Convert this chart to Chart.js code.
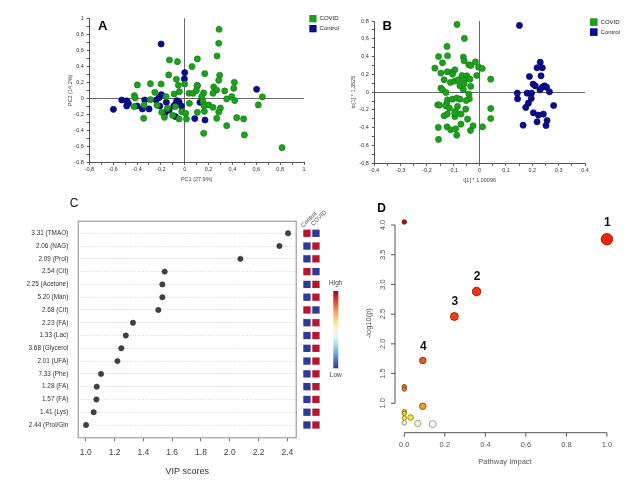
<!DOCTYPE html>
<html><head><meta charset="utf-8">
<script src="https://cdn.jsdelivr.net/npm/chart.js@4.4.1/dist/chart.umd.min.js"></script>
<style>
html,body{margin:0;padding:0;background:#fff;width:641px;height:481px;overflow:hidden;}
.p{position:absolute;}
</style></head><body>
<div class="p" style="left:0;top:0;width:345px;height:190px"><canvas id="cA"></canvas></div>
<div class="p" style="left:320px;top:0;width:321px;height:190px"><canvas id="cB"></canvas></div>
<div class="p" style="left:0;top:195px;width:345px;height:286px"><canvas id="cC"></canvas></div>
<div class="p" style="left:340px;top:195px;width:301px;height:286px"><canvas id="cD"></canvas></div>
<script>
// ---------- DATA ----------
const groupNames = ['COVID', 'Control'];

// Panel A: PCA scores [PC1, PC2]
const pcaCovid = [
[0.288,0.863],[0.285,0.688],[0.271,0.529],[0.293,0.288],[0.285,0.225],[-0.128,0.479],[-0.061,0.458],[0.106,0.492],[0.061,0.396],[0.168,0.308],[-0.134,0.292],[-0.070,0.238],[-0.397,0.167],[-0.288,0.183],[-0.198,0.179],[-0.053,0.163],[0,0.179],[0.103,0.158],[0.416,0.2],[0.411,0.125],[0.243,0.142],[0.268,0.104],[0.237,0.063],[0.335,0.092],[0.394,0.021],[0.352,-0.008],[0.419,-0.029],[0.651,0.017],[0.617,-0.083],[0.036,0.063],[0.070,0.063],[0.098,0.096],[0.159,0.067],[0.142,0.021],[-0.045,0.083],[-0.089,0.054],[-0.156,0.021],[-0.251,0.075],[-0.422,0.033],[-0.416,0.004],[-0.288,-0.017],[-0.232,-0.088],[-0.425,-0.104],[-0.344,-0.25],[-0.193,-0.175],[-0.170,-0.238],[-0.145,-0.125],[-0.078,-0.104],[-0.101,-0.213],[-0.047,-0.258],[-0.025,-0.167],[0.008,-0.188],[0.014,-0.258],[0.039,-0.063],[0.154,-0.042],[0.162,-0.092],[0.201,-0.083],[0.237,-0.113],[0.299,-0.121],[0.285,-0.171],[0.106,-0.175],[0.165,-0.163],[0.268,-0.25],[0.436,-0.242],[0.494,-0.258],[0.352,-0.342],[0.159,-0.438],[0.5,-0.458],[0.816,-0.617],[-0.341,-0.083]
];
const pcaControl = [
[-0.198,0.679],[0,0.321],[-0.003,0.242],[0.106,0.158],[0.603,0.113],[-0.598,-0.138],[-0.528,-0.021],[-0.486,-0.033],[-0.472,-0.063],[-0.486,-0.096],[-0.399,-0.096],[-0.335,-0.021],[-0.355,-0.133],[-0.299,-0.133],[-0.240,-0.021],[-0.215,0.008],[-0.196,0.046],[-0.209,-0.096],[-0.154,-0.05],[-0.162,-0.179],[-0.131,-0.146],[-0.092,-0.096],[-0.078,-0.075],[-0.067,-0.029],[-0.047,-0.046],[-0.028,-0.096],[-0.078,-0.229],[0.084,-0.254],[0.170,-0.271],[0.128,-0.05]
];

// Panel B: OPLS-DA scores [t1, to1]
const oplsCovid = [
[-0.086,0.761],[-0.058,0.604],[-0.124,0.514],[-0.156,0.401],[-0.122,0.409],[-0.062,0.394],[-0.059,0.352],[-0.141,0.330],[-0.016,0.341],[-0.041,0.307],[-0.033,0.300],[-0.170,0.270],[-0.004,0.281],[0.010,0.266],[-0.147,0.214],[-0.123,0.229],[-0.104,0.225],[-0.094,0.251],[-0.103,0.202],[-0.067,0.187],[-0.049,0.184],[-0.011,0.187],[0.042,0.146],[-0.135,0.139],[-0.111,0.109],[-0.094,0.124],[-0.081,0.139],[-0.058,0.139],[-0.037,0.146],[-0.075,0.071],[-0.059,0.094],[-0.034,0.064],[-0.147,0.045],[-0.141,0.026],[-0.062,0.026],[-0.128,-0.004],[-0.041,-0.022],[-0.039,-0.075],[-0.122,-0.086],[-0.125,-0.124],[-0.103,-0.079],[-0.087,-0.067],[-0.075,-0.079],[-0.051,-0.094],[-0.159,-0.142],[-0.153,-0.146],[-0.129,-0.154],[-0.115,-0.180],[-0.084,-0.161],[-0.092,-0.217],[-0.053,-0.191],[0.042,-0.184],[-0.135,-0.266],[-0.123,-0.247],[-0.094,-0.274],[-0.071,-0.247],[-0.095,-0.236],[-0.046,-0.304],[0.042,-0.296],[-0.071,-0.360],[-0.157,-0.397],[-0.124,-0.390],[-0.110,-0.424],[-0.091,-0.412],[-0.025,-0.379],[0.011,-0.390],[-0.035,-0.431],[-0.087,-0.484],[-0.156,-0.532]
];
const oplsControl = [
[0.151,0.750],[0.230,0.337],[0.238,0.274],[0.218,0.274],[0.189,0.176],[0.233,0.184],[0.203,0.090],[0.211,0.071],[0.246,0.071],[0.254,0.056],[0.238,0.056],[0.229,0.026],[0.265,0.004],[0.143,-0.011],[0.180,-0.011],[0.197,-0.011],[0.196,-0.071],[0.144,-0.075],[0.185,-0.124],[0.175,-0.172],[0.281,-0.150],[0.204,-0.232],[0.223,-0.259],[0.242,-0.247],[0.256,-0.319],[0.218,-0.334],[0.165,-0.371],[0.252,-0.375]
];

// Panel C: VIP scores
const vipLabels = ['3.31 (TMAO)','2.06 (NAG)','2.09 (Prol)','2.54 (Cit)','2.25 (Acetone)','5.20 (Man)','2.68 (Cit)','2.23 (FA)','1.33 (Lac)','3.68 (Glycerol','2.01 (UFA)','7.33 (Phe)','1.28 (FA)','1.57 (FA)','1.41 (Lys)','2.44 (Prol/Gln'];
const vipScores = [2.405,2.345,2.074,1.548,1.532,1.532,1.504,1.328,1.278,1.247,1.220,1.106,1.076,1.074,1.055,1.002];
const heatColumns = ['Control','COVID'];
const controlLevel = [1,0,0,1,0,0,1,0,0,0,0,0,0,0,0,0];   // 1 = high, 0 = low
const covidLevel   = [0,1,1,0,1,1,0,1,1,1,1,1,1,1,1,1];
const vipTicks = [1.0,1.2,1.4,1.6,1.8,2.0,2.2,2.4];

// Panel D: pathway analysis
const pathwayImpact = [0,1.0,0.357,0.247,0.091,0,0,0.091,0,0,0,0,0.031,0.066,0.14];
const pathwayLogP   = [4.05,3.76,2.88,2.46,1.72,1.28,1.24,0.95,0.86,0.83,0.75,0.67,0.76,0.66,0.65];
const pathwayNumber = ['','1','2','3','4','','','','','','','','','',''];
const pathwayXTicks = [0,0.2,0.4,0.6,0.8,1.0];
const pathwayYTicks = [1.0,1.5,2.0,2.5,3.0,3.5,4.0];

// ---------- STYLE ----------
const FONT = '"Liberation Sans", Arial, Helvetica, sans-serif';
Chart.defaults.font.family = FONT;
Chart.defaults.animation = false;
const GREEN = 'rgb(30,160,30)', GREEN_E = 'rgb(16,124,16)';
const BLUE = 'rgb(12,12,142)', BLUE_E = 'rgb(4,4,100)';

function commaFmt(v){
  if (Math.abs(v) < 1e-9) return '0';
  const r = Math.round(v*10)/10;
  if (Math.abs(Math.abs(r)-1) < 1e-9) return r < 0 ? '-1' : '1';
  return r.toFixed(1).replace('.', ',');
}

function sAxis(min, max, step, every, title, isY, fixed){
  return {
    type:'linear', min, max,
    ticks:{stepSize:step, autoSkip:false, maxRotation:0, minRotation:0, color:'#333', font:{size:5.5}, padding:isY?3:1.5,
      callback: v => (Math.abs(Math.round(v/step)) % every === 0) ? commaFmt(v) : ''},
    grid:{color: c => (c.tick && Math.abs(c.tick.value) < 1e-9) ? '#666' : 'rgba(0,0,0,0)', tickColor:'#555', tickLength:2.5, lineWidth:1},
    border:{display:true, color:'#555', width:1},
    title:{display:true, text:title, color:'#444', font:{size:5.5}, padding:0},
    afterFit: s => { if (isY) s.width = fixed; else s.height = fixed; }
  };
}

function scatterDatasets(a, b){
  return [
    {label:groupNames[0], data:a.map(p=>({x:p[0], y:p[1]})), backgroundColor:GREEN, borderColor:GREEN_E, pointRadius:3.1, pointBorderWidth:0.6, pointHoverRadius:3.1},
    {label:groupNames[1], data:b.map(p=>({x:p[0], y:p[1]})), backgroundColor:BLUE, borderColor:BLUE_E, pointRadius:3.1, pointBorderWidth:0.6, pointHoverRadius:3.1}
  ];
}

function legendLetter(letter, lx, ly, legX, legY, sq, gap, fs){
  return {
    id:'legend'+letter,
    afterDraw(chart){
      const ctx = chart.ctx;
      ctx.save();
      chart.data.datasets.forEach((ds, i) => {
        ctx.fillStyle = ds.backgroundColor;
        ctx.fillRect(legX, legY + i*gap, sq, sq);
        ctx.fillStyle = '#222';
        ctx.font = fs + 'px ' + FONT;
        ctx.textBaseline = 'middle';
        ctx.textAlign = 'left';
        ctx.fillText(ds.label, legX + sq + 3, legY + i*gap + sq/2);
      });
      ctx.fillStyle = '#000';
      ctx.font = 'bold 13px ' + FONT;
      ctx.textAlign = 'center';
      ctx.textBaseline = 'middle';
      ctx.fillText(letter, lx, ly);
      ctx.restore();
    }
  };
}

// ---------- PANEL A ----------
new Chart(document.getElementById('cA'), {
  type:'scatter',
  data:{datasets: scatterDatasets(pcaCovid, pcaControl)},
  options:{
    responsive:true, maintainAspectRatio:false,
    layout:{padding:{left:67, top:18.3, right:41, bottom:7.7}},
    plugins:{legend:{display:false}, tooltip:{enabled:false}},
    scales:{
      x: sAxis(-0.8, 1, 0.1, 2, 'PC1 (27.9%)', false, 20),
      y: sAxis(-0.8, 1, 0.1, 2, 'PC2 (14.2%)', true, 22.3)
    }
  },
  plugins:[legendLetter('A', 102.7, 26.7, 309.3, 15, 7.3, 10, 6)]
});

// ---------- PANEL B ----------
new Chart(document.getElementById('cB'), {
  type:'scatter',
  data:{datasets: scatterDatasets(oplsCovid, oplsControl)},
  options:{
    responsive:true, maintainAspectRatio:false,
    layout:{padding:{left:30, top:21, right:56, bottom:6.7}},
    plugins:{legend:{display:false}, tooltip:{enabled:false}},
    scales:{
      x: sAxis(-0.4, 0.4, 0.05, 2, 't[1] * 1,00096', false, 20),
      y: sAxis(-0.8, 0.8, 0.1, 2, 'to[1] * 1,3525', true, 24.3)
    }
  },
  plugins:[legendLetter('B', 67.3, 26.7, 270, 18.3, 7.6, 10, 6)]
});

// ---------- PANEL C ----------
const HEAT_HIGH = '#b8162e', HEAT_LOW = '#2e3a94';
const vipPlugin = {
  id:'vipExtras',
  beforeDatasetsDraw(chart){
    const {ctx, chartArea:a} = chart;
    ctx.save();
    ctx.strokeStyle = '#8a8a8a'; ctx.lineWidth = 1;
    ctx.strokeRect(a.left + 0.5, a.top + 0.5, a.width - 1, a.height - 1);
    ctx.restore();
  },
  afterDraw(chart){
    const {ctx, chartArea:a, scales:{y}} = chart;
    ctx.save();
    const sq = 7.3;
    const cols = [controlLevel, covidLevel];
    cols.forEach((lv, c) => {
      const x0 = a.right + 6.6 + c*9;
      lv.forEach((v, i) => {
        const yc = y.getPixelForValue(i);
        ctx.fillStyle = v ? HEAT_HIGH : HEAT_LOW;
        ctx.fillRect(x0, yc - sq/2, sq, sq);
      });
      ctx.save();
      ctx.translate(x0 + (c ? 1 : 0), y.getPixelForValue(0) - sq/2 - 2 - (c ? 1.5 : 0));
      ctx.rotate(-Math.PI/4);
      ctx.fillStyle = '#444';
      ctx.font = '6px ' + FONT;
      ctx.textAlign = 'left'; ctx.textBaseline = 'alphabetic';
      ctx.fillText(heatColumns[c], 0, 0);
      ctx.restore();
    });
    const kx = 333.3, ky0 = 96, ky1 = 173.3;
    const g = ctx.createLinearGradient(0, ky0, 0, ky1);
    const stops = ['#a50026','#d73027','#f46d43','#fdae61','#fee090','#f4f4d8','#e0f3f8','#abd9e9','#74add1','#4575b4','#313695'];
    stops.forEach((s, i) => g.addColorStop(i/(stops.length-1), s));
    ctx.fillStyle = g;
    ctx.fillRect(kx, ky0, 5, ky1 - ky0);
    ctx.fillStyle = '#444';
    ctx.font = '6.5px ' + FONT;
    ctx.textAlign = 'center'; ctx.textBaseline = 'middle';
    ctx.fillText('High', kx + 2.5, 88);
    ctx.fillText('Low', kx + 2.5, 180.5);
    ctx.fillStyle = '#111';
    ctx.font = '12px ' + FONT;
    ctx.fillText('C', 74, 8.5);
    ctx.restore();
  }
};

new Chart(document.getElementById('cC'), {
  type:'scatter',
  data:{datasets:[{label:'VIP', data: vipScores.map((v,i)=>({x:v, y:i})), backgroundColor:'#404040', borderColor:'#333', pointRadius:2.7, pointBorderWidth:0.5, pointHoverRadius:2.7}]},
  options:{
    responsive:true, maintainAspectRatio:false,
    layout:{padding:{left:0, top:25.7, right:48.3, bottom:3.6}},
    plugins:{legend:{display:false}, tooltip:{enabled:false}},
    scales:{
      x:{type:'linear', min:0.944, max:2.465,
        afterBuildTicks: s => { s.ticks = vipTicks.map(v=>({value:v})); },
        ticks:{autoSkip:false, maxRotation:0, color:'#444', font:{size:8.5}, padding:6.5, callback: v => v.toFixed(1)},
        grid:{drawOnChartArea:false, tickLength:3, tickColor:'#777'},
        border:{display:false},
        title:{display:true, text:'VIP scores', color:'#333', font:{size:9}, padding:0},
        afterFit: s => { s.height = 39.1; }
      },
      y:{type:'linear', reverse:true, min:-0.984, max:16.04,
        afterBuildTicks: s => { s.ticks = vipLabels.map((_, i)=>({value:i})); },
        ticks:{autoSkip:false, color:'#333', font:{size:6.4}, padding:9.4, callback: v => vipLabels[v]},
        grid:{color:'#c8c8c8', lineWidth:0.8, drawTicks:false},
        border:{display:false, dash:[1,1.6]},
        afterFit: s => { s.width = 77.7; }
      }
    }
  },
  plugins:[vipPlugin]
});

// ---------- PANEL D ----------
const heatStops = [[0.65,[255,255,248]],[0.67,[255,246,170]],[0.76,[244,236,50]],[0.86,[226,196,40]],[0.95,[236,160,32]],[1.25,[222,122,30]],[1.72,[226,92,24]],[2.46,[240,64,16]],[2.88,[246,48,16]],[3.76,[255,32,0]],[4.05,[176,18,18]]];
function heatColor(v, k){
  let c = heatStops[heatStops.length-1][1];
  if (v <= heatStops[0][0]) c = heatStops[0][1];
  for (let i = 0; i < heatStops.length-1; i++){
    const [a, ca] = heatStops[i], [b, cb] = heatStops[i+1];
    if (v >= a && v <= b){ const t = (v-a)/(b-a); c = ca.map((x,j)=>x + (cb[j]-x)*t); break; }
  }
  return 'rgb(' + c.map(x=>Math.round(x*k)).join(',') + ')';
}
function impactRadius(imp){ return 2.2 + 3.5*Math.sqrt(imp); }

const dPlugin = {
  id:'pathwayAxes',
  beforeDatasetsDraw(chart){
    const {ctx, chartArea:a, scales:{x, y}} = chart;
    ctx.save();
    ctx.strokeStyle = '#555'; ctx.lineWidth = 1;
    ctx.beginPath();
    const yb = y.getPixelForValue(pathwayYTicks[0]), yt = y.getPixelForValue(pathwayYTicks[pathwayYTicks.length-1]);
    ctx.moveTo(a.left, yb); ctx.lineTo(a.left, yt);
    pathwayYTicks.forEach(v => { const p = y.getPixelForValue(v); ctx.moveTo(a.left, p); ctx.lineTo(a.left - 4, p); });
    const xl = x.getPixelForValue(pathwayXTicks[0]), xr = x.getPixelForValue(pathwayXTicks[pathwayXTicks.length-1]);
    ctx.moveTo(xl, a.bottom); ctx.lineTo(xr, a.bottom);
    pathwayXTicks.forEach(v => { const p = x.getPixelForValue(v); ctx.moveTo(p, a.bottom); ctx.lineTo(p, a.bottom + 4); });
    ctx.stroke();
    ctx.fillStyle = '#555';
    ctx.font = '7.5px ' + FONT;
    ctx.textAlign = 'center'; ctx.textBaseline = 'middle';
    pathwayXTicks.forEach(v => ctx.fillText(v.toFixed(1), x.getPixelForValue(v), a.bottom + 12.3));
    pathwayYTicks.forEach(v => {
      ctx.save(); ctx.translate(a.left - 11.7, y.getPixelForValue(v)); ctx.rotate(-Math.PI/2);
      ctx.fillText(v.toFixed(1), 0, 0); ctx.restore();
    });
    ctx.fillText('Pathway Impact', (a.left + a.right)/2, a.bottom + 29);
    ctx.save(); ctx.translate(a.left - 26, (a.top + a.bottom)/2); ctx.rotate(-Math.PI/2);
    ctx.fillText('-log10(p)', 0, 0); ctx.restore();
    ctx.fillStyle = '#000';
    ctx.font = 'bold 12px ' + FONT;
    ctx.fillText('D', 41.7, 14);
    ctx.restore();
  },
  afterDatasetsDraw(chart){
    const {ctx} = chart;
    const meta = chart.getDatasetMeta(0);
    ctx.save();
    ctx.fillStyle = '#111';
    ctx.font = 'bold 12px ' + FONT;
    ctx.textAlign = 'center'; ctx.textBaseline = 'middle';
    meta.data.forEach((pt, i) => {
      if (!pathwayNumber[i]) return;
      const r = impactRadius(pathwayImpact[i]);
      ctx.fillText(pathwayNumber[i], pt.x + 0.5, pt.y - r - 10.5);
    });
    ctx.restore();
  }
};

new Chart(document.getElementById('cD'), {
  type:'scatter',
  data:{datasets:[{label:'Pathways', data: pathwayImpact.map((v,i)=>({x:v, y:pathwayLogP[i]})),
    pointRadius: c => impactRadius(pathwayImpact[c.dataIndex]),
    pointHoverRadius: c => impactRadius(pathwayImpact[c.dataIndex]),
    backgroundColor: c => heatColor(pathwayLogP[c.dataIndex], 1),
    borderColor: c => heatColor(pathwayLogP[c.dataIndex], 0.55),
    pointBorderWidth: 0.9, clip:false}]},
  options:{
    responsive:true, maintainAspectRatio:false,
    layout:{padding:{left:55, top:18.7, right:26, bottom:48.3}},
    plugins:{legend:{display:false}, tooltip:{enabled:false}},
    scales:{
      x:{type:'linear', display:false, min:-0.046, max:1.04},
      y:{type:'linear', display:false, min:0.505, max:4.19}
    }
  },
  plugins:[dPlugin]
});
</script>
</body></html>
